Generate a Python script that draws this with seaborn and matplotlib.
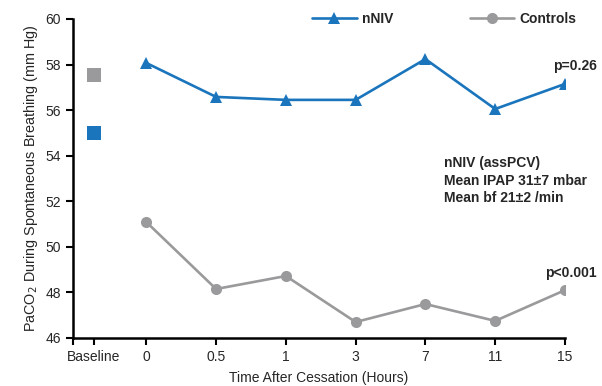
import matplotlib
matplotlib.use("Agg")
import matplotlib.pyplot as plt
import seaborn as sns
import pandas as pd

sns.set_style("ticks")
plt.rcParams['font.family'] = ['Liberation Sans', 'DejaVu Sans']

time_labels = ["0", "0.5", "1", "3", "7", "11", "15"]
niv_values = [58.07, 56.58, 56.45, 56.45, 58.24, 56.05, 57.15]
ctrl_values = [51.09, 48.15, 48.72, 46.70, 47.49, 46.75, 48.10]
baseline_label = "Baseline"
baseline_niv = 55.0
baseline_ctrl = 57.54

blue = "#1a75bc"
gray = "#9a9a9c"

pos = list(range(len(time_labels)))
df = pd.DataFrame({
    "x": pos + pos,
    "y": niv_values + ctrl_values,
    "group": ["nNIV"] * len(pos) + ["Controls"] * len(pos),
})

fig = plt.figure(figsize=(6.02, 3.86), dpi=100)
ax = fig.add_axes([0.1213, 0.1244, 0.9385 - 0.1213, 0.9508 - 0.1244])

sns.lineplot(data=df, x="x", y="y", hue="group", style="group",
             palette={"nNIV": blue, "Controls": gray},
             markers={"nNIV": "^", "Controls": "o"},
             dashes=False, markersize=8, linewidth=1.9,
             markeredgewidth=0, ax=ax)

bx = -0.75
bdf = pd.DataFrame({"x": [bx, bx], "y": [baseline_ctrl, baseline_niv], "g": ["Controls", "nNIV"]})
sns.scatterplot(data=bdf, x="x", y="y", hue="g", palette={"nNIV": blue, "Controls": gray},
                marker="s", s=95, linewidth=0, legend=False, ax=ax)

xleft = -1.05
ax.set_xlim(xleft, 6)
ax.set_ylim(46, 60)
ax.set_xticks([xleft, bx] + pos)
ax.set_xticklabels(["", baseline_label] + time_labels)
ax.set_yticks(range(46, 61, 2))
ax.tick_params(axis="both", labelsize=10, length=5, width=1.5, color="black", direction="out")
for s in ["left", "bottom"]:
    ax.spines[s].set_linewidth(1.8)
    ax.spines[s].set_color("black")
sns.despine(ax=ax)

ax.set_xlabel("Time After Cessation (Hours)", fontsize=10, labelpad=5)
ax.set_ylabel("PaCO$_2$ During Spontaneous Breathing (mm Hg)", fontsize=10.4)

leg = ax.legend(loc="center", bbox_to_anchor=(0.755, 1.0), ncol=2, frameon=False,
                columnspacing=5.5, handlelength=3.2, handletextpad=0.4,
                prop={"weight": "bold", "size": 10})
for h in leg.legend_handles:
    h.set_markersize(8)

ax.text(1.065, 57.94, "p=0.26", transform=ax.get_yaxis_transform(), ha="right", va="center",
        fontsize=10, fontweight="bold")
ax.text(1.065, 48.85, "p<0.001", transform=ax.get_yaxis_transform(), ha="right", va="center",
        fontsize=10, fontweight="bold")
ax.text(0.755, 52.9, "nNIV (assPCV)\nMean IPAP 31\u00b17 mbar\nMean bf 21\u00b12 /min",
        transform=ax.get_yaxis_transform(), ha="left", va="center",
        fontsize=10, fontweight="bold", linespacing=1.3, clip_on=False)

fig.savefig("out.png", dpi=100)
